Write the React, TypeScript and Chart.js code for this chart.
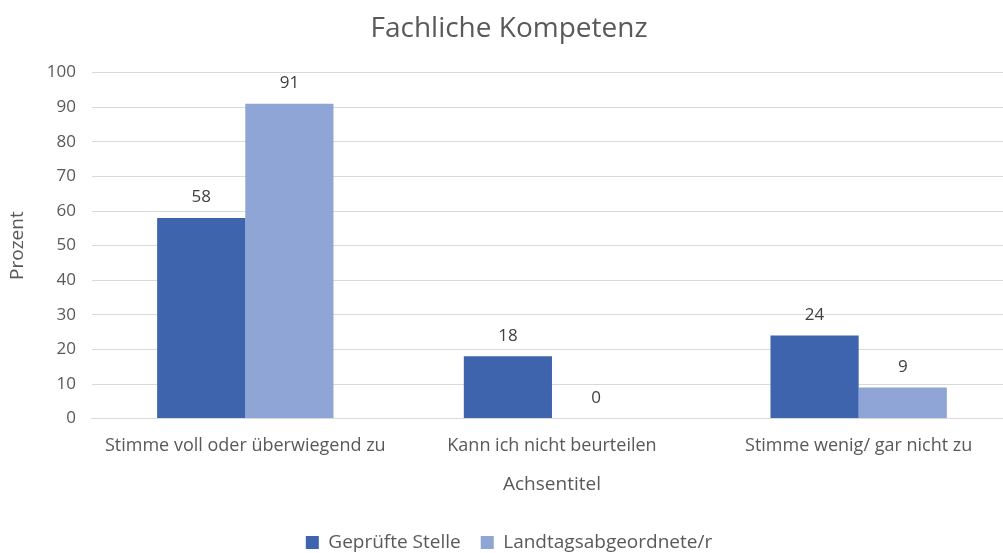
import React, { useEffect, useRef } from "react";
import { Chart, registerables } from "chart.js";

Chart.register(...registerables);

const categories = [
  "Stimme voll oder überwiegend zu",
  "Kann ich nicht beurteilen",
  "Stimme wenig/ gar nicht zu",
];
const seriesNames = ["Geprüfte Stelle", "Landtagsabgeordnete/r"];
const geprufteStelle = [58, 18, 24];
const landtagsabgeordnete = [91, 0, 9];
const colors = ["#3d64ad", "#8fa5d6"];

const FONT = "'Open Sans', 'Liberation Sans', sans-serif";
const TEXT = "#595959";

const labelPlugin = {
  id: "valueLabels",
  afterDatasetsDraw(chart: any) {
    const ctx = chart.ctx;
    ctx.save();
    ctx.font = `17px ${FONT}`;
    ctx.fillStyle = "#404040";
    ctx.textAlign = "center";
    ctx.textBaseline = "bottom";
    chart.data.datasets.forEach((ds: any, i: number) => {
      const meta = chart.getDatasetMeta(i);
      meta.data.forEach((el: any, j: number) => {
        ctx.fillText(String(ds.data[j]), el.x, el.y - 12);
      });
    });
    ctx.restore();
  },
};

export default function App() {
  const ref = useRef<HTMLCanvasElement | null>(null);
  useEffect(() => {
    document.body.style.margin = "0";
    document.body.style.overflow = "hidden";
    const chart = new Chart(ref.current!, {
      type: "bar",
      data: {
        labels: categories,
        datasets: [
          {
            label: seriesNames[0],
            data: geprufteStelle,
            backgroundColor: colors[0],
            categoryPercentage: 0.575,
            barPercentage: 1,
          },
          {
            label: seriesNames[1],
            data: landtagsabgeordnete,
            backgroundColor: colors[1],
            categoryPercentage: 0.575,
            barPercentage: 1,
          },
        ],
      },
      options: {
        animation: false,
        responsive: true,
        maintainAspectRatio: false,
        layout: { padding: { left: 6, right: 0, top: 4, bottom: -9 } },
        plugins: {
          title: {
            display: true,
            text: "Fachliche Kompetenz",
            color: TEXT,
            font: { family: FONT, size: 28, weight: "normal" },
            padding: { top: 8, bottom: 27 },
          },
          legend: {
            position: "bottom",
            labels: {
              color: TEXT,
              font: { family: FONT, size: 19 },
              boxWidth: 13,
              boxHeight: 13,
              padding: 20,
            },
          },
          tooltip: { enabled: false },
        },
        scales: {
          y: {
            min: 0,
            max: 100,
            ticks: {
              stepSize: 10,
              color: TEXT,
              font: { family: FONT, size: 17 },
              padding: 16,
            },
            grid: { color: "#d9d9d9", drawTicks: false },
            border: { display: false },
            title: {
              display: true,
              text: "Prozent",
              color: TEXT,
              font: { family: FONT, size: 19 },
              padding: { top: 0, bottom: 2 },
            },
          },
          x: {
            ticks: {
              color: TEXT,
              font: { family: FONT, size: 18 },
              padding: 8,
            },
            grid: { display: false },
            border: { color: "#d9d9d9" },
            title: {
              display: true,
              text: "Achsentitel",
              color: TEXT,
              font: { family: FONT, size: 19 },
              padding: { top: 9, bottom: 17 },
            },
          },
        },
      },
      plugins: [labelPlugin],
    });
    return () => chart.destroy();
  }, []);
  return (
    <div style={{ position: "absolute", left: 0, top: 0, width: 1012, height: 553 }}>
      <canvas ref={ref} />
    </div>
  );
}
